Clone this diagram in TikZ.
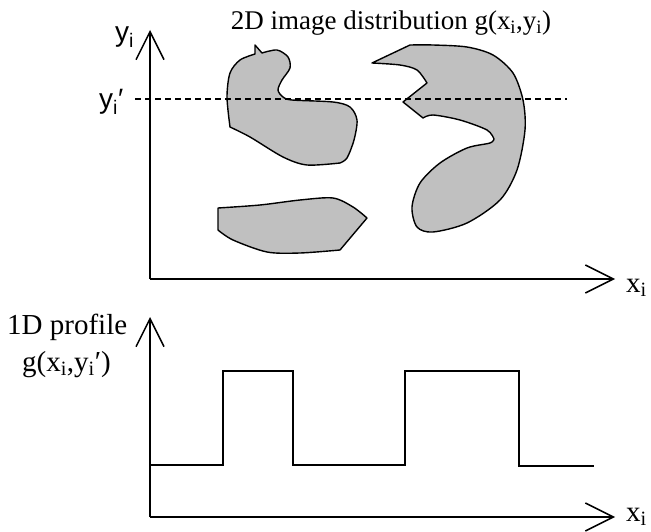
\documentclass[tikz,border=0pt]{standalone}
\usepackage{fontspec}
\setmainfont{Liberation Serif}
\newfontfamily\axisfont{Liberation Sans}
\usetikzlibrary{arrows.meta}
\tikzset{
  axis/.style={line width=1.6pt, -{Straight Barb[length=28pt,width=28pt,line width=1.5pt]}},
  blob/.style={draw=black, line width=1.4pt, fill={rgb,255:red,192;green,192;blue,192}, line join=round},
  cut/.style={line width=1.4pt, dash pattern=on 6pt off 4pt},
  prof/.style={line width=1.3pt},
  tlbl/.style={font=\fontsize{27}{29}\selectfont, inner sep=0pt},
  lbl/.style={font=\fontsize{29}{31}\selectfont, inner sep=0pt},
  albl/.style={font=\axisfont\fontsize{28}{30}\selectfont, inner sep=0pt},
  xlbl/.style={font=\fontsize{29}{31}\selectfont, inner sep=0pt}
}
\begin{document}
\begin{tikzpicture}[x=1pt,y=-1pt]
\useasboundingbox (0,0) rectangle (651,532);
% ---- upper axes
\coordinate (o1) at (150,279);
\coordinate (y1) at (150,30);
\coordinate (x1) at (615,279);
% blobs
\path[blob] (255,45) -- (262,53)
  -- plot[smooth] coordinates {(262,53) (277,50) (288,57) (290,68) (282,80) (278,90) (283,97) (292,100) (333,102) (350,107) (357,120) (354,140) (347,158) (340,163)}
  -- plot[smooth] coordinates {(340,163) (307,165) (283,157) (250,137) (230,127)}
  -- plot[smooth] coordinates {(230,127) (227,97) (230,73) (240,60) (255,54)}
  -- cycle;
\path[blob] (218,208) -- (218,230)
  -- plot[smooth] coordinates {(218,230) (233,240) (267,252) (300,253) (340,250)}
  -- (367,218)
  -- plot[smooth] coordinates {(367,218) (353,207) (333,198) (300,200) (260,205) (218,208)}
  -- cycle;
\path[blob] (372,63) -- (410,45)
  -- plot[smooth] coordinates {(410,45) (433,45) (467,47) (493,55) (513,73) (523,100) (525,130) (517,170) (500,200) (467,223) (433,232) (417,227) (412,207) (420,183) (440,163) (467,148) (490,143) (494,139)}
  -- plot[smooth] coordinates {(494,139) (487,130) (460,120) (433,115) (423,118)}
  -- (403,102) -- (427,83)
  -- plot[smooth] coordinates {(427,83) (417,70) (400,65) (372,63)}
  -- cycle;
% cut line
\coordinate (c1) at (135,99);
\coordinate (c2) at (567,99);
\draw[cut] (c1) -- (c2);
\draw[axis] (o1) -- (y1);
\draw[axis] (o1) -- (x1);
\node[tlbl, anchor=base] (title) at (391,30) {2D image distribution g(x\textsubscript{i},y\textsubscript{i})};
\node[albl, anchor=base west] (ylab) at (115,42) {y\textsubscript{i}};
\node[albl, anchor=base west] (yplab) at (99,109) {y\textsubscript{i}′};
\node[xlbl, anchor=base west] (xlab1) at (626,292) {x\textsubscript{i}};
% ---- lower axes
\coordinate (o2) at (150,517);
\coordinate (y2) at (150,317);
\coordinate (x2) at (615,517);
\draw[prof] (o2 |- 0,465) -- (223,465) -- (223,371) -- (293,371) -- (293,465)
  -- (405,465) -- (405,371) -- (519,371) -- (519,466) -- (594,466);
\draw[axis] (o2) -- (y2);
\draw[axis] (o2) -- (x2);
\node[lbl, anchor=base west] (p1) at (7,334) {1D profile};
\node[lbl, anchor=base west] (p2) at (22,371) {g(x\textsubscript{i},y\textsubscript{i}′)};
\node[xlbl, anchor=base west] (xlab2) at (626,521) {x\textsubscript{i}};
\end{tikzpicture}
\end{document}
